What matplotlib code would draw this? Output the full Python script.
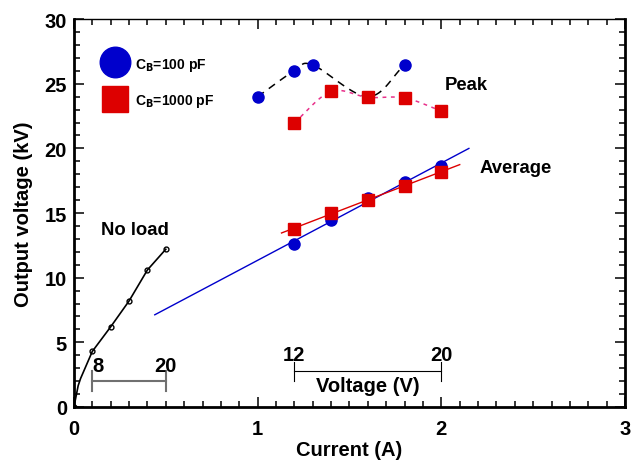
import numpy as np
import matplotlib.pyplot as plt
from matplotlib.ticker import MultipleLocator

plt.rcParams['font.family'] = ['Liberation Sans', 'DejaVu Sans']
plt.rcParams['font.weight'] = 'bold'

# no load curve (current A, output kV)
noload_x = [0.0, 0.1, 0.2, 0.3, 0.4, 0.5]
noload_y = [0.0, 4.3, 6.2, 8.2, 10.6, 12.2]
noload_line_x = [0.0, 0.023, 0.036, 0.1, 0.2, 0.3, 0.4, 0.5]
noload_line_y = [0.0, 1.65, 2.2, 4.3, 6.2, 8.2, 10.6, 12.2]

# peak values
peak_x_100 = [1.0, 1.2, 1.3, 1.6, 1.8]
peak_y_100 = [24.0, 26.0, 26.45, 24.0, 26.45]
peak_x_1000 = [1.2, 1.4, 1.6, 1.8, 2.0]
peak_y_1000 = [22.0, 24.4, 23.95, 23.9, 22.9]

# average values
avg_x = [1.2, 1.4, 1.6, 1.8, 2.0]
avg_y_100 = [12.6, 14.45, 16.2, 17.4, 18.65]
avg_y_1000 = [13.8, 15.0, 16.0, 17.1, 18.2]

blue = '#0000cc'
red = '#dd0000'


def smooth(x, y, n=30):
    # catmull-rom through the points
    x = np.asarray(x, float)
    y = np.asarray(y, float)
    px = np.concatenate([[2 * x[0] - x[1]], x, [2 * x[-1] - x[-2]]])
    py = np.concatenate([[2 * y[0] - y[1]], y, [2 * y[-1] - y[-2]]])
    xs, ys = [], []
    t = np.linspace(0, 1, n)
    for i in range(1, len(px) - 2):
        for p, out in ((px, xs), (py, ys)):
            p0, p1, p2, p3 = p[i - 1], p[i], p[i + 1], p[i + 2]
            out.extend(0.5 * (2 * p1 + (-p0 + p2) * t
                              + (2 * p0 - 5 * p1 + 4 * p2 - p3) * t ** 2
                              + (-p0 + 3 * p1 - 3 * p2 + p3) * t ** 3))
    return xs, ys


fig = plt.figure(figsize=(6.32, 4.64), dpi=100)
ax = fig.add_axes([0.117, 0.1207, 0.872, 0.836])

# no load
ax.plot(noload_line_x, noload_line_y, color='black', lw=1.2)
ax.plot(noload_x, noload_y, 'o', ms=3.5, mfc='none', mec='black', mew=1)
ax.text(0.15, 13.4, 'No load', fontsize=13.3, fontweight='bold')

# peak curves
sx, sy = smooth(peak_x_100, peak_y_100)
ax.plot(sx, sy, color='black', lw=1.1, ls=(0, (5, 4)))
sx, sy = smooth(peak_x_1000, peak_y_1000)
ax.plot(sx, sy, color='#e8308a', lw=1.1, ls=(0, (2.5, 3)))
ax.plot(peak_x_100, peak_y_100, 'o', color=blue, ms=8, zorder=3)
ax.plot(peak_x_1000, peak_y_1000, 's', color=red, ms=8.5, zorder=4)
ax.text(2.02, 24.6, 'Peak', fontsize=13.3, fontweight='bold')

# average with linear fits
k, b = np.polyfit(avg_x, avg_y_100, 1)
fx = np.array([0.44, 2.15])
ax.plot(fx, k * fx + b, color=blue, lw=1)
k, b = np.polyfit(avg_x, avg_y_1000, 1)
fx = np.array([1.13, 2.1])
ax.plot(fx, k * fx + b, color=red, lw=1)
ax.plot(avg_x, avg_y_100, 'o', color=blue, ms=8, zorder=3)
ax.plot(avg_x, avg_y_1000, 's', color=red, ms=8.5, zorder=4)
ax.text(2.21, 18.2, 'Average', fontsize=13.3, fontweight='bold')

# legend drawn by hand
ax.plot([0.223], [26.65], 'o', color=blue, ms=22)
ax.plot([0.223], [23.8], 's', color=red, ms=19)
ax.text(0.335, 26.5, r'C$_\mathbf{B}$=100 pF', fontsize=10, va='center')
ax.text(0.335, 23.7, r'C$_\mathbf{B}$=1000 pF', fontsize=10, va='center')

# voltage scale bars
gray = '#707070'
ax.plot([0.1, 0.5], [2.0, 2.0], color=gray, lw=1.5)
ax.plot([0.1, 0.1], [1.2, 2.8], color=gray, lw=1.5)
ax.plot([0.5, 0.5], [1.2, 2.8], color=gray, lw=1.5)
ax.text(0.1, 2.8, '8', fontsize=14.5, fontweight='bold')
ax.text(0.5, 2.8, '20', fontsize=14.5, fontweight='bold', ha='center')

ax.plot([1.2, 2.0], [2.8, 2.8], color='black', lw=0.8)
ax.plot([1.2, 1.2], [2.0, 3.5], color='black', lw=0.8)
ax.plot([2.0, 2.0], [2.0, 3.5], color='black', lw=0.8)
ax.text(1.2, 3.6, '12', fontsize=14.5, fontweight='bold', ha='center')
ax.text(2.0, 3.6, '20', fontsize=14.5, fontweight='bold', ha='center')
ax.text(1.6, 1.65, 'Voltage (V)', fontsize=14.5, fontweight='bold', ha='center', va='center')

ax.set_xlim(0, 3)
ax.set_ylim(0, 30)
ax.xaxis.set_major_locator(MultipleLocator(1))
ax.xaxis.set_minor_locator(MultipleLocator(0.1))
ax.yaxis.set_major_locator(MultipleLocator(5))
ax.yaxis.set_minor_locator(MultipleLocator(1))
ax.tick_params(which='both', direction='in', width=1.1, labelsize=14.5,
               top=True, right=True)
ax.tick_params(which='major', length=7)
ax.tick_params(which='minor', length=4)
ax.tick_params(axis='x', pad=9)
ax.tick_params(axis='y', pad=5)
for lab in ax.get_xticklabels() + ax.get_yticklabels():
    lab.set_fontweight('bold')
ax.spines['top'].set_linewidth(1)
ax.spines['right'].set_linewidth(2)
ax.spines['left'].set_linewidth(2)
ax.spines['bottom'].set_linewidth(2)
ax.set_xlabel('Current (A)', fontsize=14.5, fontweight='bold', labelpad=1)
ax.set_ylabel('Output voltage (kV)', fontsize=14.5, fontweight='bold', labelpad=8)

fig.savefig('out.png', dpi=100)
